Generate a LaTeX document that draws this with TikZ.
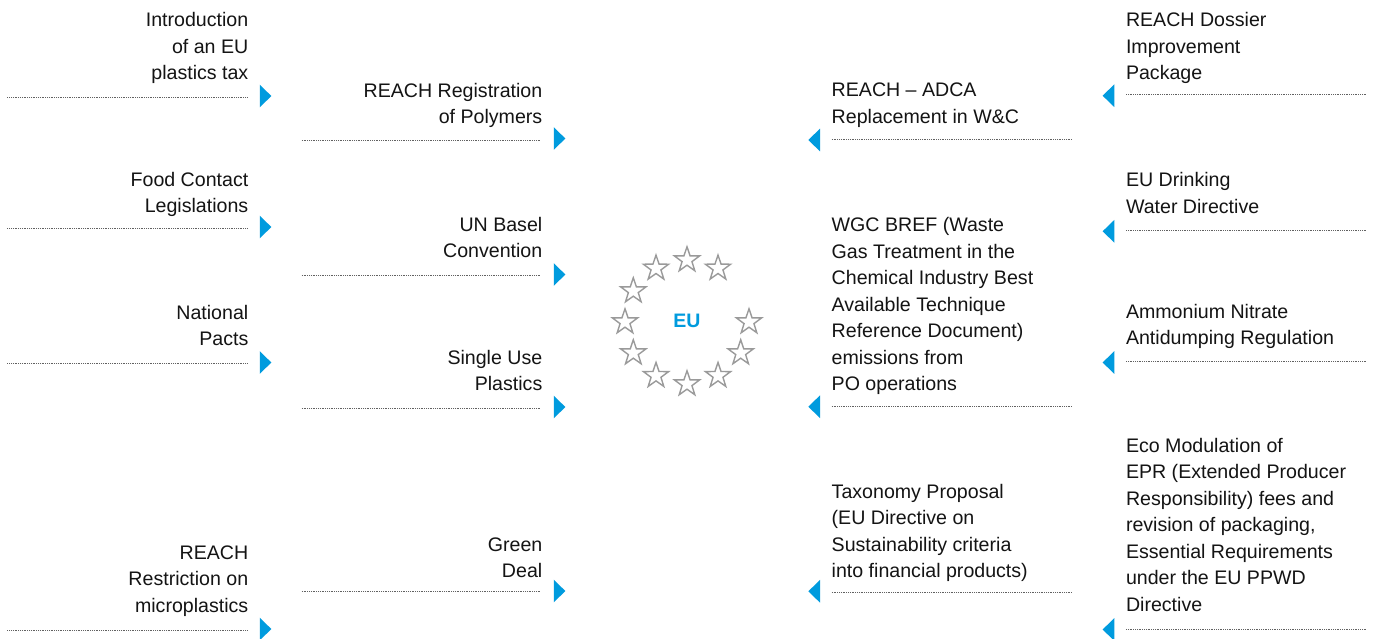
\documentclass[tikz,border=0pt]{standalone}
\usepackage{fontspec}
\setmainfont{Liberation Sans}
\usetikzlibrary{shapes.geometric}
\definecolor{eublue}{HTML}{009BDE}
\definecolor{textc}{HTML}{141414}
\definecolor{stargray}{HTML}{9A9A9A}
\newcommand\RL[1]{\vtop{\baselineskip=26.5pt\lineskiplimit=-20pt\halign{\hfil##\cr#1\crcr}}}
\newcommand\LL[1]{\vtop{\baselineskip=26.5pt\lineskiplimit=-20pt\halign{##\hfil\cr#1\crcr}}}
% left-side entry: name, text right x, first baseline, dotted y, triangle y, dotted start x, text
\newcommand\entryR[7]{%
  \node[lbl, anchor=base east] (#1) at (#2,#3) {\RL{#7}};
  \coordinate (#1-a) at (#6,#4);
  \coordinate (#1-b) at (#2-1.5,#4);
  \draw[dotline] (#1-a) -- (#1-b);
  \fill[eublue] (#2+11.5,#5-11.35) -- (#2+23,#5) -- (#2+11.5,#5+11.35) -- cycle;
}
% right-side entry: name, text left x, first baseline, dotted y, triangle y, dotted end x, text
\newcommand\entryL[7]{%
  \node[lbl, anchor=base west] (#1) at (#2,#3) {\LL{#7}};
  \coordinate (#1-a) at (#2,#4);
  \coordinate (#1-b) at (#6,#4);
  \draw[dotline] (#1-a) -- (#1-b);
  \fill[eublue] (#2-11.7,#5-11.35) -- (#2-23.4,#5) -- (#2-11.7,#5+11.35) -- cycle;
}
\begin{document}
\begin{tikzpicture}[x=1pt,y=-1pt,
  lbl/.style={inner sep=0pt, outer sep=0pt, font=\fontsize{19.6}{26.5}\selectfont, text=textc},
  dotline/.style={draw=black!62, line width=0.7pt, dash pattern=on 0.7pt off 1.1pt},
  starsty/.style={star, star points=5, star point ratio=2.55, minimum size=26.5pt, inner sep=0pt, draw=stargray, line width=1.4pt},
  eulbl/.style={inner sep=0pt, font=\fontsize{19.5}{20}\selectfont\bfseries, text=eublue}]
\useasboundingbox (0,0) rectangle (1375,638);
\fill[white] (0,0) rectangle (1375,638);

% left column A
\entryR{la1}{248.3}{26.7}{97.3}{96}{7.3}{Introduction\cr of an EU\cr plastics tax}
\entryR{la2}{248.3}{186}{228.3}{227}{7.3}{Food Contact\cr Legislations}
\entryR{la3}{248.3}{319.3}{363.3}{362.5}{7.3}{National\cr Pacts}
\entryR{la4}{248.3}{559.3}{630.7}{629}{7.3}{REACH\cr Restriction on\cr microplastics}

% left column B
\entryR{lb1}{542.3}{97.3}{140}{138.5}{301.7}{REACH Registration\cr of Polymers}
\entryR{lb2}{542.3}{231}{275}{274.5}{301.7}{UN Basel\cr Convention}
\entryR{lb3}{542.3}{364}{408.3}{407}{301.7}{Single Use\cr Plastics}
\entryR{lb4}{542.3}{551}{591}{591}{301.7}{Green\cr Deal}

% right column A
\entryL{ra1}{831.7}{96.7}{139}{140}{1071.7}{REACH \textendash{} ADCA\cr Replacement in W\&C}
\entryL{ra2}{831.7}{231.7}{406}{406.7}{1071.7}{WGC BREF (Waste\cr Gas Treatment in the\cr Chemical Industry Best\cr Available Technique\cr Reference Document)\cr emissions from\cr PO operations}
\entryL{ra3}{831.7}{498.3}{592.7}{591.3}{1071.7}{Taxonomy Proposal\cr (EU Directive on\cr Sustainability criteria\cr into financial products)}

% right column B
\entryL{rb1}{1126}{26.7}{94.3}{95.7}{1366.7}{REACH Dossier\cr Improvement\cr Package}
\entryL{rb2}{1126}{186.7}{230.7}{231.3}{1366.7}{EU Drinking\cr Water Directive}
\entryL{rb3}{1126}{318.3}{361.7}{362.5}{1366.7}{Ammonium Nitrate\cr Antidumping Regulation}
\entryL{rb4}{1126}{452.3}{629.3}{629.5}{1366.7}{Eco Modulation of\cr EPR (Extended Producer\cr Responsibility) fees and\cr revision of packaging,\cr Essential Requirements\cr under the EU PPWD\cr Directive}

% EU emblem
\foreach \a in {0,60,90,120,150,180,210,240,270,300,330}
  \node[starsty] (star\a) at ({687+62*cos(\a)},{322-62*sin(\a)}) {};
\node[eulbl] (eu) at (687,321) {EU};
\end{tikzpicture}
\end{document}
